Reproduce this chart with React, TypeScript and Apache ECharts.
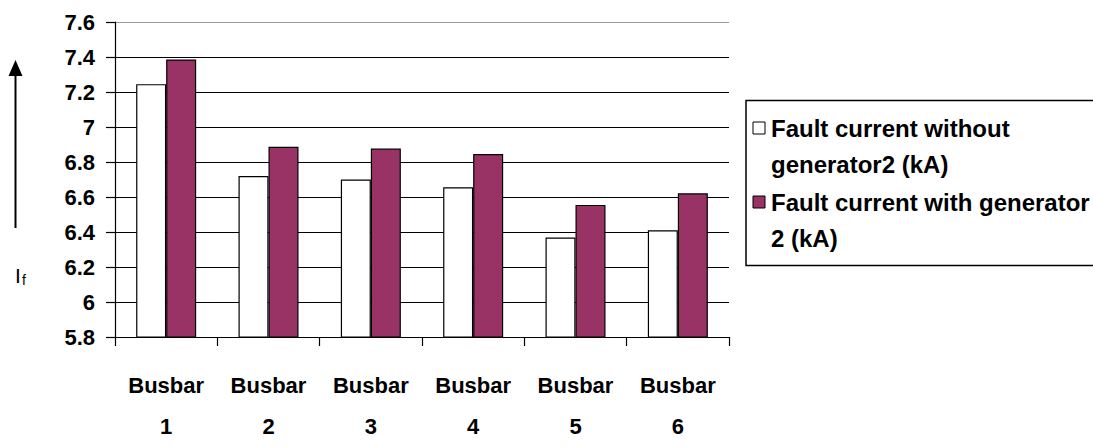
import React, { useEffect, useRef } from "react";
import * as echarts from "echarts";

// Busbar fault currents (kA)
const categories = ["Busbar\n1", "Busbar\n2", "Busbar\n3", "Busbar\n4", "Busbar\n5", "Busbar\n6"];
const withoutGen2 = [7.245, 6.72, 6.70, 6.656, 6.368, 6.41];
const withGen2 = [7.386, 6.887, 6.877, 6.846, 6.555, 6.621];
const seriesNames = ["Fault current without\ngenerator2 (kA)", "Fault current with generator\n2 (kA)"];
const seriesColors = ["#ffffff", "#993366"];
const yMin = 5.8;
const yMax = 7.6;
const yStep = 0.2;

const FONT = '"Liberation Sans", Arial, sans-serif';

export default function App() {
  const ref = useRef<HTMLDivElement>(null);

  useEffect(() => {
    document.body.style.margin = "0";
    if (!ref.current) return;
    const chart = echarts.init(ref.current, undefined, { renderer: "svg" });

    // top gridline is drawn lighter than the rest
    const gridColors = Array.from({ length: 10 }, (_, i) => (i === 9 ? "#9a9a9a" : "#000000"));

    const legendItems = seriesNames.map((name, i) => {
      const cy = 128 + i * 74;
      return [
        {
          type: "rect",
          shape: { x: 753, y: cy - 6, width: 12, height: 12 },
          style: { fill: seriesColors[i], stroke: "#000", lineWidth: 1 },
        },
        {
          type: "text",
          x: 771,
          y: cy - 18,
          style: {
            text: name,
            font: `bold 24px ${FONT}`,
            fill: "#000",
            lineHeight: 36,
            textVerticalAlign: "top",
          },
        },
      ];
    }).flat();

    chart.setOption({
      animation: false,
      grid: { left: 115, top: 22, width: 614, height: 325, containLabel: false },
      xAxis: {
        type: "category",
        data: categories,
        axisLine: { lineStyle: { color: "#000", width: 1.2 } },
        axisTick: { show: true, length: 9, lineStyle: { color: "#000", width: 1.2 } },
        axisLabel: {
          color: "#000",
          fontFamily: FONT,
          fontWeight: "bold",
          fontSize: 22,
          lineHeight: 41,
          margin: 28,
          interval: 0,
        },
      },
      yAxis: {
        type: "value",
        min: yMin,
        max: yMax,
        interval: yStep,
        axisLine: { show: true, lineStyle: { color: "#000", width: 1.2 } },
        axisTick: { show: true, length: 9, lineStyle: { color: "#000", width: 1.2 } },
        splitLine: { show: true, lineStyle: { color: gridColors, width: 1.2 } },
        axisLabel: {
          color: "#000",
          fontFamily: FONT,
          fontWeight: "bold",
          fontSize: 22,
          margin: 20,
          formatter: (v: number) => String(Number(v.toFixed(1))),
        },
      },
      series: [
        {
          name: seriesNames[0],
          type: "bar",
          data: withoutGen2,
          barWidth: 30,
          barGap: "0%",
          itemStyle: { color: seriesColors[0], borderColor: "#000", borderWidth: 1.2 },
        },
        {
          name: seriesNames[1],
          type: "bar",
          data: withGen2,
          barWidth: 30,
          barGap: "0%",
          itemStyle: { color: seriesColors[1], borderColor: "#000", borderWidth: 1.2 },
        },
      ],
      graphic: [
        // y-axis direction arrow and symbol
        {
          type: "line",
          shape: { x1: 15.5, y1: 228, x2: 15.5, y2: 72 },
          style: { stroke: "#000", lineWidth: 2 },
        },
        {
          type: "polygon",
          shape: { points: [[15.5, 60], [8.5, 76], [22.5, 76]] },
          style: { fill: "#000" },
        },
        {
          type: "text",
          x: 15,
          y: 265,
          style: { text: "I", font: `21px ${FONT}`, fill: "#000", textVerticalAlign: "top" },
        },
        {
          type: "text",
          x: 22,
          y: 273,
          style: { text: "f", font: `14px ${FONT}`, fill: "#000", textVerticalAlign: "top" },
        },
        // legend box
        {
          type: "rect",
          shape: { x: 746, y: 100.5, width: 360, height: 165 },
          style: { fill: "#fff", stroke: "#000", lineWidth: 1.5 },
          z: 0,
        },
        ...legendItems,
      ],
    });

    return () => chart.dispose();
  }, []);

  return <div ref={ref} style={{ width: 1093, height: 447 }} />;
}
